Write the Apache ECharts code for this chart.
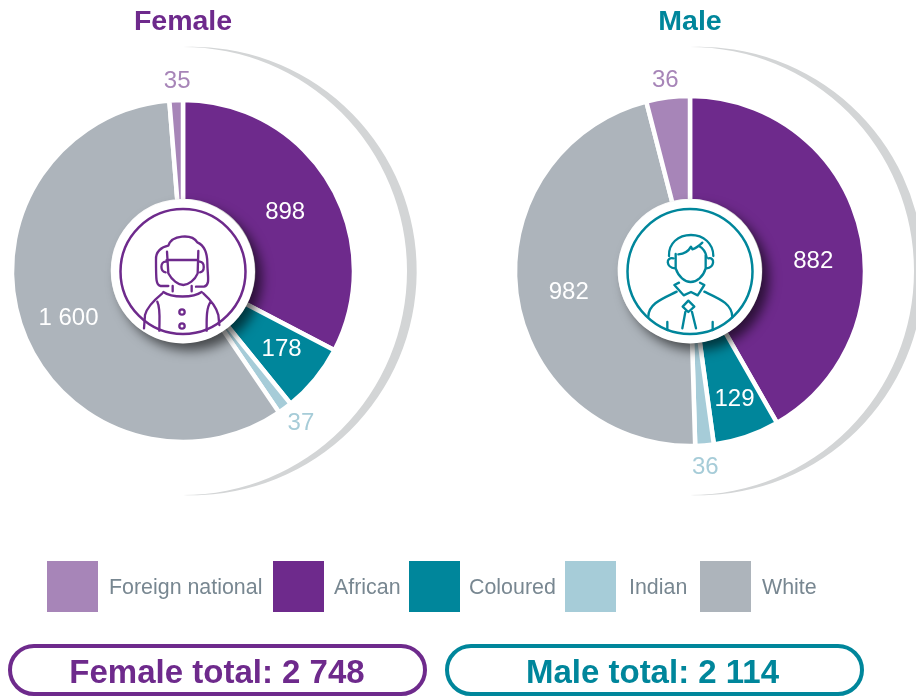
<!DOCTYPE html>
<html>
<head>
<meta charset="utf-8">
<style>
html, body { margin: 0; padding: 0; background: #fff; }
#main { width: 916px; height: 696px; overflow: hidden; }
</style>
<script src="https://cdn.jsdelivr.net/npm/echarts@6/dist/echarts.min.js"></script>
</head>
<body>
<div id="main"></div>
<script>
var categories = ['African', 'Coloured', 'Indian', 'White', 'Foreign national'];
var legendOrder = ['Foreign national', 'African', 'Coloured', 'Indian', 'White'];

var femaleValues = [898, 178, 37, 1600, 35];
var femaleText = ['898', '178', '37', '1 600', '35'];

// the male foreign national slice is drawn far bigger than its printed 36,
// it only adds up to the printed total with about 85
var maleValues = [882, 129, 36, 982, 85];
var maleText = ['882', '129', '36', '982', '36'];

var femaleTotal = 'Female total: 2 748';
var maleTotal = 'Male total: 2 114';

var PURPLE = '#6e2a8c';
var TEAL = '#00869b';
var LIGHT_PURPLE = '#a785b8';
var LIGHT_BLUE = '#a6ccd8';
var GREY = '#adb4bb';
var colors = [PURPLE, TEAL, LIGHT_BLUE, GREY, LIGHT_PURPLE];
var FONT = '"Liberation Sans", Arial, sans-serif';

// label nudges, in data order
var femaleNudge = [[-3.5, 5.5], [3, 0], [1, -5], [2, 6], [2, 6]];
var maleNudge = [[2, 23], [4, 10], [-1, 1], [3, 4], [0, 4]];

// spacing in the original legend is uneven, so each entry is its own legend:
// [left of swatch, gap before text]
var legendPlace = {
    'Foreign national': [47, 6],
    'African': [273, 5],
    'Coloured': [409, 4],
    'Indian': [565, 8],
    'White': [700, 6]
};

// icons traced at 3x, origin is the top left of the badge crop
var womanIcon =
    'M205,318 L182,318 C168,316 168,300 168,240 C166,215 185,200 205,197 C215,165 275,160 292,187 C315,197 322,222 322,250 C322,285 332,316 312,320 L288,320' +
    'M201,215 L205,280 C215,300 235,315 250,315 C265,315 285,300 293,280 L295,213 M200,240 L295,240' +
    'M197,245 C180,245 180,275 197,277 M300,245 C315,247 315,275 300,277' +
    'M218,318 L218,334 M275,318 L275,334' +
    'M190,336 C215,354 280,354 305,336' +
    'M187,340 C165,358 140,385 135,405 L132,445 M310,340 C330,358 350,385 355,405 L358,435' +
    'M172,365 C182,385 178,420 178,452 M332,365 C318,385 320,420 320,452' +
    'M254,396 A8,8 0 1 1 238,396 A8,8 0 1 1 254,396 M254,438 A8,8 0 1 1 238,438 A8,8 0 1 1 254,438';

var manIcon =
    'M192,228 C190,190 220,165 258,165 C295,165 325,190 325,228' +
    'M220,223 C235,222 250,215 258,200 L262,208 C272,205 282,198 292,188 M282,198 C295,205 302,215 305,232' +
    'M212,222 L212,265 C220,290 240,306 257,306 C275,306 295,290 302,265 L302,225' +
    'M205,235 C182,230 182,262 210,265 M310,235 C330,230 330,262 304,265' +
    'M208,315 L236,346 L258,336 L278,346 L298,315 M208,315 L222,308 M298,315 L285,308' +
    'M215,335 C175,355 130,370 130,410 M298,335 C340,355 382,370 382,412' +
    'M250,362 L233,380 L250,396 L268,380 Z' +
    'M241,396 L232,445 M261,396 L273,445' +
    'M187,426 L187,450 M323,426 L323,450';

function crescentPath(cx) {
    return 'M' + cx + ',47 A224.2,224.2 0 1 1 ' + cx + ',495 A224,224 0 0 0 ' + cx + ',47 Z';
}

// the graphic component only knows registered shapes, so the svg paths go in as shapes
echarts.graphic.registerShape('womanIcon', echarts.graphic.extendPath(womanIcon));
echarts.graphic.registerShape('manIcon', echarts.graphic.extendPath(manIcon));
echarts.graphic.registerShape('crescentFemale', echarts.graphic.extendPath(crescentPath(183)));
echarts.graphic.registerShape('crescentMale', echarts.graphic.extendPath(crescentPath(690)));

var chart = echarts.init(document.getElementById('main'));

function innerPie(name, cx, r, values, text, nudge) {
    return {
        name: name,
        type: 'pie',
        center: [cx, 271],
        radius: [70, r],
        startAngle: 90,
        clockwise: true,
        silent: true,
        animation: false,
        itemStyle: { borderColor: '#fff', borderWidth: 4.5 },
        label: {
            position: 'inside',
            fontFamily: FONT,
            fontSize: 24,
            color: '#fff',
            formatter: function (p) {
                return text[p.dataIndex];
            }
        },
        labelLine: { show: false },
        labelLayout: function (p) {
            return { dx: nudge[p.dataIndex][0], dy: nudge[p.dataIndex][1] };
        },
        data: categories.map(function (c, i) {
            var small = c === 'Indian' || c === 'Foreign national';
            return {
                name: c,
                value: values[i],
                itemStyle: { color: colors[i] },
                label: { show: !small }
            };
        })
    };
}

// same slices again, see-through, only to hang the small labels outside the pie
function outerLabels(name, cx, r, values, text, nudge) {
    return {
        name: name,
        type: 'pie',
        center: [cx, 271],
        radius: [r, 2 * 193 - r],
        startAngle: 90,
        silent: true,
        animation: false,
        legendHoverLink: false,
        itemStyle: { color: 'transparent' },
        label: {
            position: 'inside',
            fontFamily: FONT,
            fontSize: 24,
            formatter: function (p) {
                return text[p.dataIndex];
            }
        },
        labelLine: { show: false },
        labelLayout: function (p) {
            return { dx: nudge[p.dataIndex][0], dy: nudge[p.dataIndex][1] };
        },
        data: categories.map(function (c, i) {
            var small = c === 'Indian' || c === 'Foreign national';
            return {
                name: c,
                value: values[i],
                label: { show: small, color: colors[i] }
            };
        })
    };
}

function crescent(shapeName) {
    return {
        type: shapeName,
        z: 1,
        silent: true,
        style: { fill: '#d3d5d6' }
    };
}

function badge(cx, color, iconName, ox) {
    return [
        {
            type: 'circle',
            z: 10,
            silent: true,
            shape: { cx: cx, cy: 271.5, r: 72 },
            style: {
                fill: '#fff',
                shadowBlur: 12,
                shadowOffsetX: 7,
                shadowOffsetY: 7,
                shadowColor: 'rgba(0,0,0,0.6)'
            }
        },
        {
            type: 'circle',
            z: 11,
            silent: true,
            shape: { cx: cx, cy: 271.5, r: 62.5 },
            style: { fill: 'none', stroke: color, lineWidth: 2.5 }
        },
        {
            type: iconName,
            z: 11,
            silent: true,
            x: ox,
            y: 180,
            scaleX: 1 / 3,
            scaleY: 1 / 3,
            style: { fill: 'none', stroke: color, lineWidth: 7, lineJoin: 'round', lineCap: 'round' }
        }
    ];
}

function pill(x, w, color, text, textX) {
    return [
        {
            type: 'rect',
            silent: true,
            shape: { x: x, y: 646, width: w, height: 48, r: 24 },
            style: { fill: '#fff', stroke: color, lineWidth: 4 }
        },
        {
            type: 'text',
            silent: true,
            x: textX,
            y: 673.5,
            style: {
                text: text,
                fill: color,
                font: 'bold 33px ' + FONT,
                align: 'center',
                verticalAlign: 'middle'
            }
        }
    ];
}

var legends = legendOrder.map(function (n) {
    return {
        left: legendPlace[n][0],
        top: 561,
        padding: 0,
        itemWidth: 51,
        itemHeight: 51,
        icon: 'rect',
        selectedMode: false,
        itemStyle: { borderWidth: 0 },
        formatter: '{t|{name}}',
        textStyle: {
            rich: {
                t: {
                    color: '#788791',
                    fontFamily: FONT,
                    fontSize: 21.4,
                    padding: [4, 0, 0, legendPlace[n][1]]
                }
            }
        },
        data: [n]
    };
});

var option = {
    animation: false,
    backgroundColor: '#fff',
    title: [
        {
            text: 'Female',
            left: 183,
            top: 8,
            padding: 0,
            textAlign: 'center',
            textStyle: { color: PURPLE, fontFamily: FONT, fontWeight: 'bold', fontSize: 28.5 }
        },
        {
            text: 'Male',
            left: 690,
            top: 8,
            padding: 0,
            textAlign: 'center',
            textStyle: { color: TEAL, fontFamily: FONT, fontWeight: 'bold', fontSize: 28.5 }
        }
    ],
    legend: legends,
    series: [
        innerPie('Female', 183, 171, femaleValues, femaleText, femaleNudge),
        outerLabels('Female labels', 183, 171, femaleValues, femaleText, femaleNudge),
        innerPie('Male', 690, 175, maleValues, maleText, maleNudge),
        outerLabels('Male labels', 690, 175, maleValues, maleText, maleNudge)
    ],
    graphic: {
        elements: [crescent('crescentFemale'), crescent('crescentMale')]
            .concat(badge(183, PURPLE, 'womanIcon', 100))
            .concat(badge(690, TEAL, 'manIcon', 605))
            .concat(pill(10, 415, PURPLE, femaleTotal, 217))
            .concat(pill(447, 415, TEAL, maleTotal, 652.5))
    }
};

chart.setOption(option);
</script>
</body>
</html>
